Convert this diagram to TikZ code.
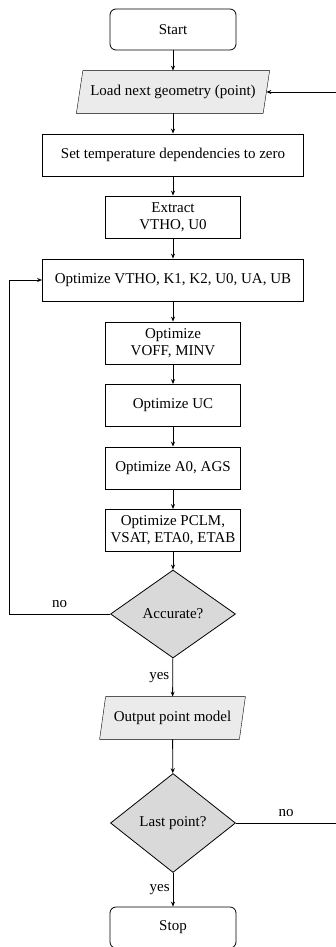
\documentclass[tikz,border=0pt]{standalone}
\usepackage{fontspec}
\setmainfont{Liberation Serif}
\usetikzlibrary{shapes.geometric,arrows.meta,backgrounds}
\definecolor{decfill}{gray}{0.85}
\definecolor{iofill}{gray}{0.92}
\begin{document}
\begin{tikzpicture}[x=1pt,y=-1pt,
  font=\fontsize{15}{16.7}\selectfont,
  line width=0.8pt,
  every node/.style={inner sep=0pt, align=center},
  proc/.style={draw, rectangle, minimum height=42pt},
  wide/.style={proc, minimum width=261pt},
  narrow/.style={proc, minimum width=135pt},
  term/.style={draw, rectangle, rounded corners=6pt, minimum width=126pt, minimum height=41pt},
  iobox/.style={rectangle, minimum width=#1, minimum height=42pt},
  dec/.style={draw, diamond, fill=decfill},
  arr/.style={-{Stealth[length=5pt,width=4pt]}}]
\useasboundingbox (0,0) rectangle (335,947);

\node[term] (start) at (173,29.5) {Start};
\node[iobox=186pt] (load) at (173,92) {Load next geometry (point)};
\node[wide] (temp) at (173,155) {Set temperature dependencies to zero};
\node[narrow] (extract) at (173,217) {Extract\\VTHO, U0};
\node[wide] (optA) at (173,280) {Optimize VTHO, K1, K2, U0, UA, UB};
\node[narrow] (voff) at (173,343) {Optimize\\VOFF, MINV};
\node[narrow] (uc) at (173,405.5) {Optimize UC};
\node[narrow] (a0) at (173,468) {Optimize A0, AGS};
\node[narrow] (pclm) at (173,530.5) {Optimize PCLM,\\VSAT, ETA0, ETAB};
\node[dec, minimum width=125pt, minimum height=88pt] (acc) at (173,614) {Accurate?};
\node[iobox=139pt] (out) at (172.5,718) {Output point model};
\node[dec, minimum width=125pt, minimum height=99pt] (last) at (173,823) {Last point?};
\node[term] (stop) at (173,927.5) {Stop};

\begin{scope}[on background layer]
\draw[fill=iofill] ([xshift=3.25pt]load.north west) -- ([xshift=3.25pt]load.north east)
  -- ([xshift=-3.25pt]load.south east) -- ([xshift=-3.25pt]load.south west) -- cycle;
\draw[fill=iofill] ([xshift=3pt]out.north west) -- ([xshift=3pt]out.north east)
  -- ([xshift=-3pt]out.south east) -- ([xshift=-3pt]out.south west) -- cycle;
\end{scope}

\coordinate (lc) at (9,614);
\coordinate (rc) at (345,823);

\draw[arr] (start) -- (load);
\draw[arr] (load) -- (temp);
\draw[arr] (temp) -- (extract);
\draw[arr] (extract) -- (optA);
\draw[arr] (optA) -- (voff);
\draw[arr] (voff) -- (uc);
\draw[arr] (uc) -- (a0);
\draw[arr] (a0) -- (pclm);
\draw[arr] (pclm) -- (acc);
\draw[arr] (acc) -- node[left=3pt]{yes} (out);
\draw[arr] (out) -- (last);
\draw[arr] (last) -- node[left=3pt]{yes} (stop);
\draw[arr] (acc.west) -- node[above=6pt]{no} (lc) |- (optA.west);
\draw[arr] (last.east) -- node[pos=0.46, above=6pt]{no} (rc) |- (load.east);
\end{tikzpicture}
\end{document}
